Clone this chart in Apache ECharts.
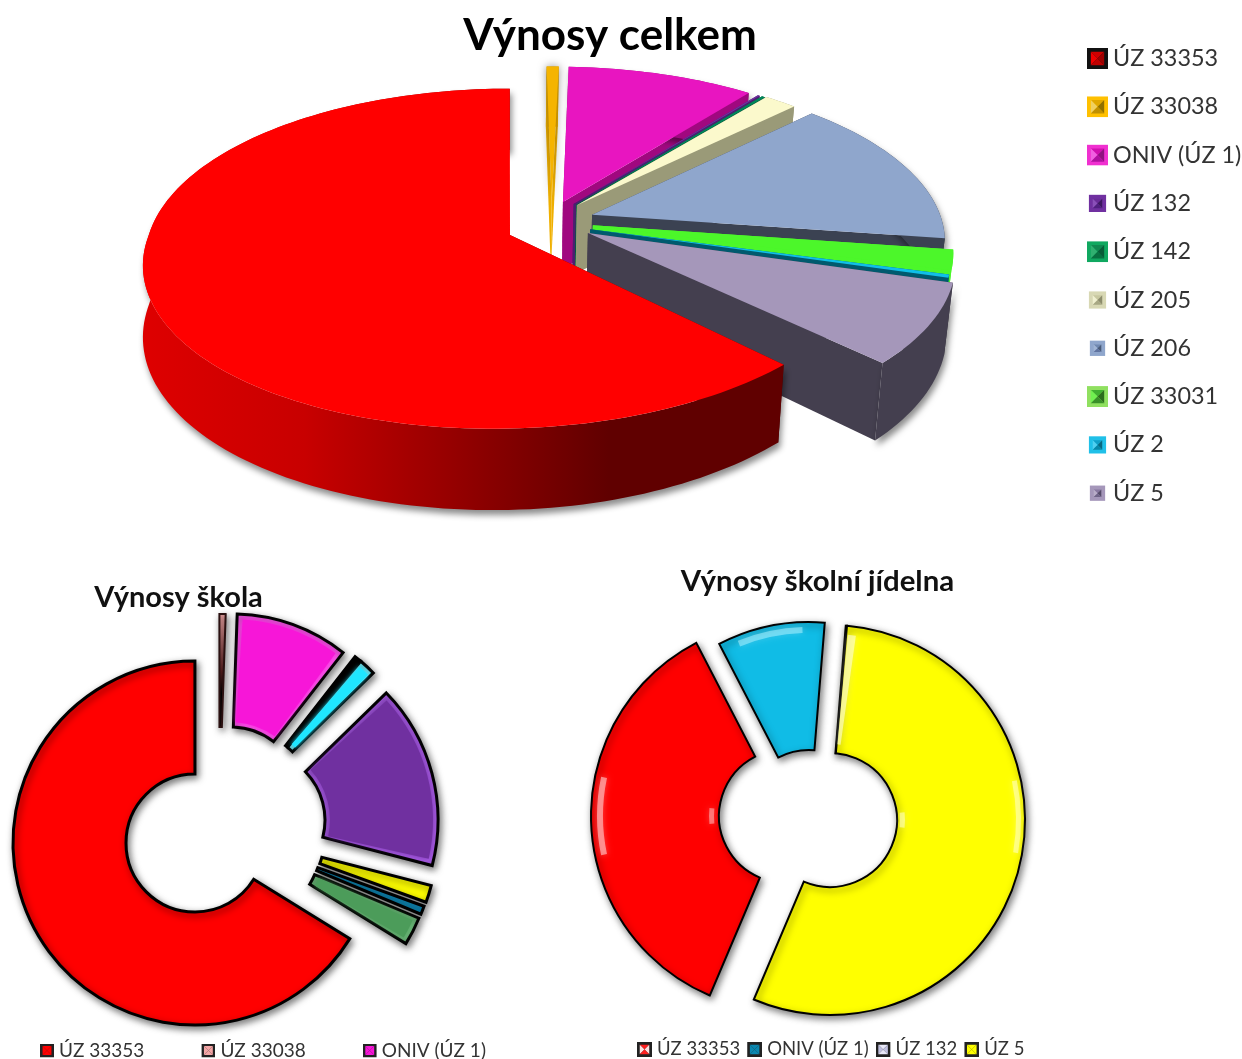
<!DOCTYPE html>
<html>
<head>
<meta charset="utf-8">
<title>Výnosy</title>
<script src="https://cdn.jsdelivr.net/npm/echarts@6/dist/echarts.min.js"></script>
<style>
  html, body { margin: 0; padding: 0; background: #fff; }
  #chart { width: 1242px; height: 1059px; }
</style>
</head>
<body>
<div id="chart"></div>
<script>
// values are shares in percent
const totalNames = ["ÚZ 33353", "ÚZ 33038", "ONIV (ÚZ 1)", "ÚZ 132", "ÚZ 142", "ÚZ 205", "ÚZ 206", "ÚZ 33031", "ÚZ 2", "ÚZ 5"];
const totalValues = [62.6, 0.64, 9.97, 0.11, 0.17, 1.75, 14.7, 1.97, 0.31, 7.78];
const schoolNames = ["ÚZ 33353", "ÚZ 33038", "ONIV (ÚZ 1)", "ÚZ 132", "ÚZ 142", "ÚZ 206", "ÚZ 33031", "ÚZ 2", "ÚZ 5"];
const schoolValues = [66.2, 0.55, 10.02, 0.64, 1.5, 16.33, 1.53, 0.75, 2.5];
const canteenNames = ["ÚZ 33353", "ONIV (ÚZ 1)", "ÚZ 132", "ÚZ 5"];
const canteenValues = [36, 8.9, 0.1, 55];

const schoolLegend = ["ÚZ 33353", "ÚZ 33038", "ONIV (ÚZ 1)"];

// styles
const totalColors = ["#ff0000", "#f5b400", "#e815c0", "#7030a0", "#00875a", "#fbf9cc", "#8fa6cc", "#4cf72a", "#10bfe8", "#a597ba"];
const totalSides = [null, "#f0b000", "#a0087f", "#4b1f70", "#006040", "#9a9a78", "#3b4252", "#4cf72a", "#005a6e", "#443f4f"];
// ground offset of each exploded slice, its radius, and the sideways lean of the red front
const totalShift = [[0, 0], [0.118, -0.2], [0.15, -0.203], [0.18, -0.19], [0.187, -0.185], [0.189, -0.182], [0.23, -0.123], [0.23, -0.059], [0.222, -0.035], [0.215, -0.012]];
const totalRadius = [0.995, 0.97, 0.965, 0.96, 0.96, 0.965, 0.975, 0.987, 0.985, 1];
const totalLean = [0.04, 0, 0, 0, 0, 0, 0, 0, 0, 0];

const pinkFade = new echarts.graphic.LinearGradient(0, 614, 0, 728, [
  { offset: 0, color: "#e8a0a0" },
  { offset: 0.5, color: "#5a2020" },
  { offset: 0.7, color: "#000000" },
  { offset: 1, color: "#000000" }
], true);
const schoolColors = ["#ff0000", pinkFade, "#f716d8", "#000000", "#1fe6ff", "#7030a0", "#ffff00", "#1090c0", "#4c9c5a"];
const schoolGloss = ["#ff0000", pinkFade, "#ff5cf0", "#000000", "#7ff4ff", "#b060f0", "#ffff00", "#1090c0", "#6fbc7c"];
const schoolLines = [3, 2, 3, 3, 3, 3, 3, 3, 3];
const schoolCenters = [[195, 843], [219.5, 796], [231, 796], [243, 800], [243, 800], [256, 820], [255, 840], [253, 844], [251, 848]];

const canteenColors = ["#ff0000", "#10bce6", "#f4f4d0", "#ffff00"];
const canteenGloss = ["#ff0000", "#10bce6", "#f4f4d0", "#ffff00"];
const canteenLines = [2, 2, 2, 2];
const canteenCenters = [[786, 816], [809, 817], [830, 820], [830, 820]];
// soft glints: slice, from angle, to angle, inner radius, outer radius, colour
const canteenGlints = [
  [0, 258, 282, 183, 189, "rgba(255,225,225,0.55)"],
  [0, 264, 276, 72, 77, "rgba(255,210,210,0.5)"],
  [1, 338, 358, 184, 190, "rgba(170,240,255,0.55)"],
  [3, 78, 100, 186, 191, "rgba(255,255,190,0.6)"],
  [3, 84, 96, 70, 75, "rgba(255,255,190,0.6)"],
  [3, 5.5, 8, 76, 186, "rgba(255,255,215,0.6)"]
];

// frame, top, left, right, bottom faces and inset of the legend keys
const totalKeys = [
  ["#111111", "#d00000", "#f00000", "#a00000", "#c00000", 0],
  ["#ffc000", "#e0a800", "#f0d060", "#8f7000", "#c09000", 0],
  ["#f030d0", "#d010b0", "#f060e0", "#901080", "#b010a0", 0],
  ["#7030a0", "#6a2c98", "#8a50b8", "#3c1860", "#502080", 2],
  ["#10a860", "#108850", "#30b070", "#085c38", "#087040", 0],
  ["#d8d8b4", "#c8c8a0", "#f0f0d0", "#8c8c6c", "#a8a884", 2],
  ["#8fa6cc", "#7088b0", "#a0b4d4", "#485a78", "#6074a0", 3],
  ["#90e060", "#40b030", "#70f050", "#2c6c1c", "#389028", 0],
  ["#20c0e8", "#10a0c8", "#50d0f0", "#086880", "#0888a8", 2],
  ["#a597ba", "#8878a0", "#b8acc8", "#544a68", "#706488", 3]
];
const schoolKeys = [
  ["#222222", "#ff0000", "#ff0000", "#ff0000", "#ff0000", 0],
  ["#222222", "#f4a6a6", "#f4a6a6", "#f4a6a6", "#f4a6a6", 0],
  ["#222222", "#f716d8", "#f716d8", "#f716d8", "#f716d8", 0]
];
const canteenKeys = [
  ["#222222", "#ff2020", "#ffe0e0", "#ffe0e0", "#ff2020", 0],
  ["#222222", "#0b87b0", "#0b87b0", "#0b87b0", "#0b87b0", 0],
  ["#222222", "#e8e8f8", "#c0c0e0", "#c0c0e0", "#e8e8f8", 0],
  ["#222222", "#ffff00", "#ffff00", "#ffff00", "#ffff00", 0]
];

function keyIcon(k) {
  const n = 22, a = k[5], b = a + 4, m = n / 2;
  const poly = (pts, c) => "<polygon points='" + pts + "' fill='" + c + "'/>";
  const svg = "<svg xmlns='http://www.w3.org/2000/svg' width='22' height='22'>" +
    "<rect x='" + a + "' y='" + a + "' width='" + (n - 2 * a) + "' height='" + (n - 2 * a) + "' fill='" + k[0] + "'/>" +
    poly(b + "," + b + " " + (n - b) + "," + b + " " + m + "," + m, k[1]) +
    poly(b + "," + b + " " + b + "," + (n - b) + " " + m + "," + m, k[2]) +
    poly((n - b) + "," + b + " " + (n - b) + "," + (n - b) + " " + m + "," + m, k[3]) +
    poly(b + "," + (n - b) + " " + (n - b) + "," + (n - b) + " " + m + "," + m, k[4]) +
    "</svg>";
  return "image://data:image/svg+xml;charset=utf-8," + encodeURIComponent(svg);
}

// start / end angle of each slice in degrees clockwise from 12 o'clock
function sliceAngles(values, startDeg) {
  const sum = values.reduce((a, b) => a + b, 0);
  let cur = startDeg;
  return values.map(v => {
    const from = cur;
    cur += (v / sum) * 360;
    return [from, cur];
  });
}

// perspective used by the big pie
const CX = 510, CY = 235, RX = 363, RY = 167.6, PERSP = 0.14, DEPTH = 70;
function project(u, v) {
  const s = 1 / (1 - PERSP * v);
  return [CX + RX * u * s, CY + RY * v * s, s];
}
// bottom rim, on the right the walls lean in a little
function drop(p) {
  const x = p[0] > CX ? CX + (p[0] - CX) * 0.98 : p[0];
  return [x, p[1] + DEPTH * p[2]];
}
function arcPoints(shift, r, lean, from, to) {
  const pts = [];
  const steps = Math.max(2, Math.ceil((to - from) / 1.5));
  for (let i = 0; i <= steps; i++) {
    const a = ((from + ((to - from) * i) / steps) * Math.PI) / 180;
    const cs = Math.cos(a);
    pts.push(project(shift[0] + r * Math.sin(a) - lean * Math.max(-cs, 0), shift[1] - r * cs));
  }
  return pts;
}

const redSide = new echarts.graphic.LinearGradient(143, 0, 790, 0, [
  { offset: 0, color: "#de0000" },
  { offset: 0.25, color: "#c80000" },
  { offset: 0.52, color: "#8c0000" },
  { offset: 0.72, color: "#600000" },
  { offset: 1, color: "#600000" }
], true);

const totalAngles = sliceAngles(totalValues, 134.6);
const totalSeries = totalNames.map((name, i) => ({
  type: "custom",
  name: name,
  coordinateSystem: "none",
  silent: true,
  z: i === 0 ? 20 : 2 + i,
  data: [totalValues[i]],
  renderItem: () => {
    const shift = totalShift[i];
    const ang = totalAngles[i];
    const top = arcPoints(shift, totalRadius[i], totalLean[i], ang[0], ang[1]);
    const tip = project(shift[0], shift[1]);
    const side = totalSides[i] || redSide;
    // only the big slices throw a shadow, the thin ones would smear over their neighbours
    const shadow = totalValues[i] > 5
      ? { shadowBlur: 6, shadowColor: "rgba(0,0,0,0.45)", shadowOffsetX: 2, shadowOffsetY: 5 }
      : {};
    const cut = p => ({
      type: "polygon",
      shape: { points: [tip.slice(0, 2), p.slice(0, 2), drop(p), drop(tip)] },
      style: { fill: side }
    });
    const topStyle = { fill: totalColors[i] };
    if (i === 1) {
      topStyle.shadowBlur = 8;
      topStyle.shadowColor = "rgba(0,0,0,0.45)";
    }
    return {
      type: "group",
      children: [
        cut(top[0]),
        cut(top[top.length - 1]),
        {
          type: "polygon",
          shape: { points: top.map(p => p.slice(0, 2)).concat(top.map(drop).reverse()) },
          style: Object.assign({ fill: side }, shadow)
        },
        {
          type: "polygon",
          shape: { points: [tip.slice(0, 2)].concat(top.map(p => p.slice(0, 2))) },
          style: topStyle
        }
      ]
    };
  }
}));

function donutSeries(names, values, startDeg, centers, outer, inner, colors, gloss, lines, glints) {
  const angles = sliceAngles(values, startDeg);
  return names.map((name, i) => ({
    type: "custom",
    name: name,
    coordinateSystem: "none",
    silent: true,
    data: [values[i]],
    renderItem: () => {
      const rad = d => ((d - 90) * Math.PI) / 180;
      const c = centers[i];
      const ang = angles[i];
      const children = [{
        type: "sector",
        shape: { cx: c[0], cy: c[1], r: outer, r0: inner, startAngle: rad(ang[0]), endAngle: rad(ang[1]), clockwise: true },
        style: {
          fill: gloss[i], stroke: lines[i] < 3 && outer < 190 ? "#2a1010" : "#000", lineWidth: lines[i],
          shadowBlur: 7, shadowColor: "rgba(0,0,0,0.5)", shadowOffsetX: 2, shadowOffsetY: 3
        }
      }];
      const span = ang[1] - ang[0];
      if (span > 5 && colors[i] !== gloss[i]) {
        const pad = Math.min(span * 0.15, 230 / ((outer + inner) / 2));
        children.push({
          type: "sector",
          shape: { cx: c[0], cy: c[1], r: outer - 5, r0: inner + 5, startAngle: rad(ang[0] + pad), endAngle: rad(ang[1] - pad), clockwise: true },
          style: { fill: colors[i], shadowBlur: 5, shadowColor: colors[i] }
        });
      }
      (glints || []).filter(g => g[0] === i).forEach(g => {
        children.push({
          type: "sector",
          shape: { cx: c[0], cy: c[1], r: g[4], r0: g[3], startAngle: rad(g[1]), endAngle: rad(g[2]), clockwise: true },
          style: { fill: g[5], shadowBlur: 6, shadowColor: g[5] }
        });
      });
      return { type: "group", children: children };
    }
  }));
}

const chart = echarts.init(document.getElementById("chart"), null, { renderer: "canvas" });
const fontName = "Lato";
chart.setOption({
  animation: false,
  backgroundColor: "#fff",
  textStyle: { fontFamily: fontName },
  title: [
    { text: "Výnosy celkem", left: 610, top: 14, padding: 0, textAlign: "center", textStyle: { fontFamily: fontName, fontSize: 44, fontWeight: "bold", color: "#000" } },
    { text: "Výnosy škola", left: 178.5, top: 583, padding: 0, textAlign: "center", textStyle: { fontFamily: fontName, fontSize: 29, fontWeight: "bold", color: "#111" } },
    { text: "Výnosy školní jídelna", left: 817.5, top: 567, padding: 0, textAlign: "center", textStyle: { fontFamily: fontName, fontSize: 29.4, fontWeight: "bold", color: "#111" } }
  ],
  legend: [
    {
      orient: "vertical", left: 1087, top: 47, padding: 0, itemWidth: 21, itemHeight: 22, itemGap: 25.3, selectedMode: false,
      textStyle: { fontFamily: fontName, fontSize: 23.4, color: "#333" },
      data: totalNames.map((n, i) => ({ name: n, icon: keyIcon(totalKeys[i]) }))
    },
    {
      orient: "horizontal", left: 40, top: 1041, padding: 0, itemWidth: 14, itemHeight: 14, itemGap: 57, selectedMode: false,
      textStyle: { fontFamily: fontName, fontSize: 19, color: "#333" },
      data: schoolLegend.map((n, i) => ({ name: n, icon: keyIcon(schoolKeys[i]) }))
    },
    {
      orient: "horizontal", left: 637, top: 1040, padding: 0, itemWidth: 15, itemHeight: 15, itemGap: 7, selectedMode: false,
      textStyle: { fontFamily: fontName, fontSize: 18.5, color: "#333" },
      data: canteenNames.map((n, i) => ({ name: n, icon: keyIcon(canteenKeys[i]) }))
    }
  ],
  series: totalSeries
    .concat(donutSeries(schoolNames, schoolValues, 121.7, schoolCenters, 182, 69, schoolColors, schoolGloss, schoolLines))
    .concat(donutSeries(canteenNames, canteenValues, 203, canteenCenters, 195, 67, canteenColors, canteenGloss, canteenLines, canteenGlints))
});
</script>
</body>
</html>
